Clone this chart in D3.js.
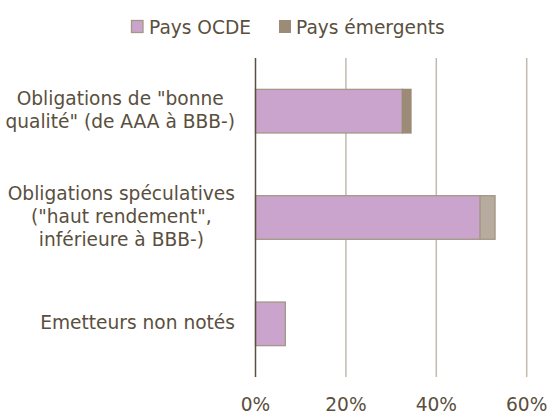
<!DOCTYPE html>
<html lang="fr">
<head>
  <meta charset="UTF-8">
  <title>Notation des obligations</title>
  <script src="https://d3js.org/d3.v7.min.js"></script>
  <style>
    body { margin: 0; background: #fff; }
    svg text { font-family: "DejaVu Sans", Verdana, sans-serif; fill: #5a4f3e; }
  </style>
</head>
<body>
  <div id="chart"></div>
  <script>
    // données
    const categories = [
      ['Obligations de "bonne', 'qualité" (de AAA à BBB-)'],
      ['Obligations spéculatives', '("haut rendement",', 'inférieure à BBB-)'],
      ['Emetteurs non notés']
    ];
    const seriesNames = ["Pays OCDE", "Pays émergents"];
    const ocde = [32.5, 49.7, 6.6];
    const emergents = [1.9, 3.3, 0];
    const ticks = [0, 20, 40, 60];

    const width = 551, height = 414;
    const fontSize = 18.6;
    const svg = d3.select("#chart").append("svg")
      .attr("width", width).attr("height", height);

    const x = d3.scaleLinear().domain([0, 60]).range([255.5, 526.7]);
    const y = d3.scaleBand().domain(d3.range(categories.length))
      .range([58, 377]).paddingInner(0.59).paddingOuter(0.295);

    // grille
    svg.append("g").selectAll("line").data(ticks.slice(1)).join("line")
      .attr("x1", d => x(d)).attr("x2", d => x(d))
      .attr("y1", 58).attr("y2", 377)
      .attr("stroke", "#c3b9ad").attr("stroke-width", 1.5);

    // barres
    const emColors = ["#9b8b77", "#b6ab9e", "#b6ab9e"];
    svg.append("g").selectAll("rect").data(ocde).join("rect")
      .attr("x", x(0)).attr("y", (d, i) => y(i))
      .attr("width", d => x(d) - x(0)).attr("height", y.bandwidth())
      .attr("fill", "#caa4cd").attr("stroke", "#a39886").attr("stroke-width", 1.3);
    svg.append("g").selectAll("rect").data(emergents).join("rect")
      .filter(d => d > 0)
      .attr("x", (d, i) => x(ocde[i]))
      .attr("y", (d, i) => y(i))
      .attr("width", d => x(d) - x(0)).attr("height", y.bandwidth())
      .attr("fill", (d, i) => emColors[i])
      .attr("stroke", (d, i) => i === 0 ? emColors[0] : "#a39886").attr("stroke-width", 1.3);

    // axe zéro
    svg.append("line").attr("x1", x(0)).attr("x2", x(0))
      .attr("y1", 58).attr("y2", 377)
      .attr("stroke", "#5b4f3f").attr("stroke-width", 1.5);

    // étiquettes de l'axe X
    svg.append("g").selectAll("text").data(ticks).join("text")
      .attr("x", d => x(d)).attr("y", 404)
      .attr("text-anchor", "middle").attr("dominant-baseline", "central")
      .attr("font-size", fontSize)
      .text(d => d + "%");

    // étiquettes des catégories
    const lineH = 22.6;
    const labels = svg.append("g");
    categories.forEach((lines, i) => {
      const g = labels.append("g");
      const cy = y(i) + y.bandwidth() / 2 - 1;
      const texts = lines.map((t, k) => g.append("text")
        .attr("y", cy + (k - (lines.length - 1) / 2) * lineH)
        .attr("dominant-baseline", "central")
        .attr("text-anchor", "middle")
        .attr("font-size", fontSize)
        .text(t));
      const maxW = d3.max(texts, t => t.node().getComputedTextLength());
      texts.forEach(t => t.attr("x", 235 - maxW / 2));
    });

    // légende
    const legend = svg.append("g");
    legend.append("rect").attr("x", 131.5).attr("y", 20.5).attr("width", 11.5).attr("height", 12)
      .attr("fill", "#caa4cd").attr("stroke", "#a39886").attr("stroke-width", 1.3);
    legend.append("text").attr("x", 149).attr("y", 27).attr("dominant-baseline", "central")
      .attr("font-size", fontSize).text(seriesNames[0]);
    legend.append("rect").attr("x", 279).attr("y", 20).attr("width", 12).attr("height", 13)
      .attr("fill", "#9b8b77");
    legend.append("text").attr("x", 296).attr("y", 27).attr("dominant-baseline", "central")
      .attr("font-size", fontSize).text(seriesNames[1]);
  </script>
</body>
</html>
